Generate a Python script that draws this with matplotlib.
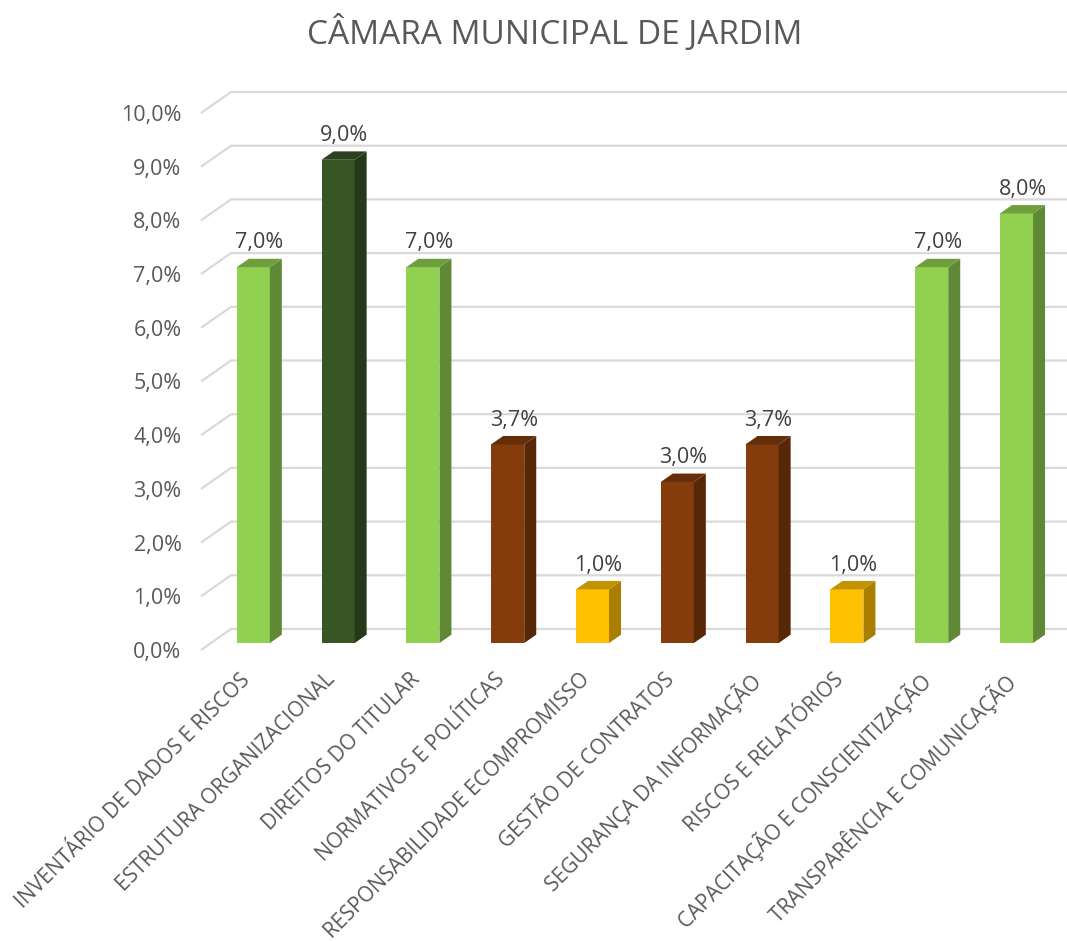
import numpy as np
import matplotlib.pyplot as plt
from matplotlib.patches import Polygon
from matplotlib.colors import to_rgb

# Data
categories = [
    "INVENTÁRIO DE DADOS E RISCOS",
    "ESTRUTURA ORGANIZACIONAL",
    "DIREITOS DO TITULAR",
    "NORMATIVOS E POLÍTICAS",
    "RESPONSABILIDADE ECOMPROMISSO",
    "GESTÃO DE CONTRATOS",
    "SEGURANÇA DA INFORMAÇÃO",
    "RISCOS E RELATÓRIOS",
    "CAPACITAÇÃO E CONSCIENTIZAÇÃO",
    "TRANSPARÊNCIA E COMUNICAÇÃO",
]
values = [7.0, 9.0, 7.0, 3.7, 1.0, 3.0, 3.7, 1.0, 7.0, 8.0]
y_ticks = list(range(0, 11))
title = "CÂMARA MUNICIPAL DE JARDIM"

# Styles
bar_colors = ["#92D050", "#375623", "#92D050", "#843C0C", "#FFC000",
              "#843C0C", "#843C0C", "#FFC000", "#92D050", "#92D050"]
text_color = "#595959"
grid_color = "#D9D9D9"
plt.rcParams["font.family"] = ["Open Sans", "DejaVu Sans"]

W, H = 1067, 941
fig = plt.figure(figsize=(W / 100, H / 100), dpi=100)
ax = fig.add_axes([201 / W, (H - 650) / H, 848 / W, 537 / H])
ax.set_xlim(-0.5, 9.5)
ax.set_ylim(0, 10)

# oblique depth (full floor depth) in data units
DX = 30 / 84.8
DY = 21 / 53.7
d0, dd = 0.33, 0.40
bw = 0.39


def shade(c, f):
    r, g, b = to_rgb(c)
    return (r * f, g * f, b * f)


# back wall gridlines with slanted left edge
for t in y_ticks:
    ax.plot([-0.5, -0.5 + DX, 9.5 + DX + 1], [t, t + DY, t + DY],
            color=grid_color, lw=1.6, clip_on=False, zorder=1,
            solid_capstyle="butt")

# 3D-like bars
for i, (v, c) in enumerate(zip(values, bar_colors)):
    xl = i - bw / 2 + d0 * DX
    xr = i + bw / 2 + d0 * DX
    yb = d0 * DY
    yt = v + d0 * DY
    ox, oy = dd * DX, dd * DY
    front = Polygon([(xl, yb), (xr, yb), (xr, yt), (xl, yt)], closed=True,
                    facecolor=c, edgecolor="none", zorder=3, clip_on=False)
    side = Polygon([(xr, yb), (xr + ox, yb + oy), (xr + ox, yt + oy), (xr, yt)],
                   closed=True, facecolor=shade(c, 0.66), edgecolor="none",
                   zorder=3, clip_on=False)
    top = Polygon([(xl, yt), (xr, yt), (xr + ox, yt + oy), (xl + ox, yt + oy)],
                  closed=True, facecolor=shade(c, 0.76), edgecolor="none",
                  zorder=3, clip_on=False)
    for p in (front, side, top):
        ax.add_patch(p)
    ax.text(i + (d0 + dd / 2) * DX, yt + oy + 0.1, f"{v:.1f}%".replace(".", ","),
            ha="center", va="bottom", fontsize=15.5, color="#404040", zorder=4)

# category labels
for i, lab in enumerate(categories):
    ax.text(i - 0.04, -0.36, lab, rotation=45, rotation_mode="anchor",
            ha="right", va="top", fontsize=15, color=text_color)

ax.set_xticks([])
ax.set_yticks(y_ticks)
ax.set_yticklabels([f"{t:.1f}%".replace(".", ",") for t in y_ticks],
                   fontsize=15.5, color=text_color)
ax.tick_params(axis="y", length=0, pad=14)
for s in ax.spines.values():
    s.set_visible(False)
ax.patch.set_alpha(0)

fig.text(555 / W, 1 - 33 / H, title, ha="center", va="center",
         fontsize=24, color=text_color)

fig.savefig("out.png", dpi=100)
